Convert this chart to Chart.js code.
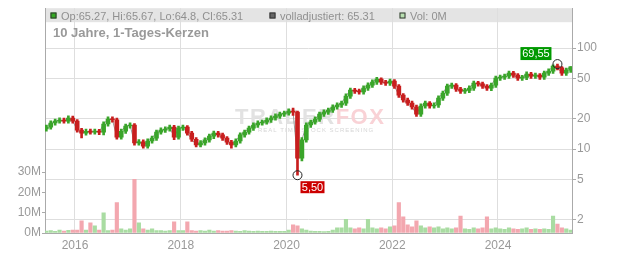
<!DOCTYPE html>
<html>
<head>
<meta charset="utf-8">
<script src="https://cdn.jsdelivr.net/npm/chart.js@4.4.1/dist/chart.umd.min.js"></script>
<style>
  html, body { margin: 0; padding: 0; background: #fff; }
  #wrap { position: relative; width: 632px; height: 253px; }
</style>
</head>
<body>
<div id="wrap"><canvas id="kurs"></canvas></div>
<script>
// Monatskerzen, Volumen in Mio.
const months = [
  '2015-06','2015-07','2015-08','2015-09','2015-10','2015-11','2015-12',
  '2016-01','2016-02','2016-03','2016-04','2016-05','2016-06','2016-07','2016-08','2016-09','2016-10','2016-11','2016-12',
  '2017-01','2017-02','2017-03','2017-04','2017-05','2017-06','2017-07','2017-08','2017-09','2017-10','2017-11','2017-12',
  '2018-01','2018-02','2018-03','2018-04','2018-05','2018-06','2018-07','2018-08','2018-09','2018-10','2018-11','2018-12',
  '2019-01','2019-02','2019-03','2019-04','2019-05','2019-06','2019-07','2019-08','2019-09','2019-10','2019-11','2019-12',
  '2020-01','2020-02','2020-03','2020-04','2020-05','2020-06','2020-07','2020-08','2020-09','2020-10','2020-11','2020-12',
  '2021-01','2021-02','2021-03','2021-04','2021-05','2021-06','2021-07','2021-08','2021-09','2021-10','2021-11','2021-12',
  '2022-01','2022-02','2022-03','2022-04','2022-05','2022-06','2022-07','2022-08','2022-09','2022-10','2022-11','2022-12',
  '2023-01','2023-02','2023-03','2023-04','2023-05','2023-06','2023-07','2023-08','2023-09','2023-10','2023-11','2023-12',
  '2024-01','2024-02','2024-03','2024-04','2024-05','2024-06','2024-07','2024-08','2024-09','2024-10','2024-11','2024-12',
  '2025-01','2025-02','2025-03','2025-04','2025-05'
];
const opens = [
  15.8,16.5,18.1,18.9,19.4,18.9,20.3,
  18.9,15.4,14.4,15.0,14.7,15.0,14.7,17.7,19.8,19.5,13.1,15.0,
  16.9,17.3,11.5,11.8,10.7,12.0,12.8,14.7,15.4,15.8,16.5,13.1,
  16.1,16.5,14.4,12.5,11.0,11.5,12.3,13.4,14.4,13.8,12.8,11.7,
  11.0,12.0,13.8,14.7,16.1,17.3,18.1,18.5,19.4,20.3,21.2,22.2,
  22.7,23.8,23.2,8.1,12.3,17.3,18.5,19.8,22.2,23.2,24.3,26.1,
  27.3,28.5,33.5,38.4,37.5,36.8,40.2,43.0,46.1,49.4,46.1,45.0,
  47.1,42.0,34.2,30.6,28.5,26.1,22.2,26.7,28.5,26.7,27.3,32.0,
  35.8,42.0,43.0,39.3,37.5,38.0,40.2,45.0,44.2,42.0,40.2,43.0,
  50.5,51.6,52.8,56.6,54.0,50.5,51.2,55.3,52.8,54.0,51.6,56.6,
  59.3,66.4,64.0,56.6,60.6
];
const highs = [
  17.3,19.0,19.8,20.4,20.3,21.3,21.2,
  19.6,16.0,15.8,15.8,15.8,15.7,18.6,20.8,20.8,20.3,15.8,17.7,
  18.2,17.9,12.4,12.3,12.6,13.4,15.4,16.2,16.6,17.3,17.2,16.9,
  17.3,17.1,15.0,13.0,12.1,12.9,14.1,15.1,15.0,14.4,13.3,12.2,
  12.6,14.5,15.4,16.9,18.2,19.0,19.4,20.4,21.3,22.3,23.3,23.8,
  25.0,25.5,23.8,13.0,18.2,19.4,20.8,23.3,24.4,25.5,27.4,28.7,
  29.9,35.2,40.3,40.0,39.2,42.2,45.2,48.4,51.5,50.8,48.0,49.4,
  48.8,43.5,35.5,32.0,29.8,27.2,28.0,29.9,29.6,28.7,33.6,37.6,
  44.1,45.1,44.6,40.9,39.9,42.2,47.2,46.8,46.0,43.6,45.1,53.0,
  54.2,55.4,59.4,58.8,56.0,53.8,58.1,57.5,56.7,56.0,59.4,62.3,
  68.5,69.55,65.5,63.6,65.67
];
const lows = [
  15.0,15.7,17.2,18.0,18.0,18.0,18.0,
  14.7,12.9,13.7,14.0,14.0,13.9,13.8,16.8,18.5,12.5,12.5,14.3,
  16.1,10.9,10.9,10.2,10.2,11.4,12.2,14.0,14.6,15.0,12.4,12.5,
  15.3,13.7,11.9,10.5,10.5,10.9,11.7,12.7,13.1,12.2,11.1,10.2,
  10.5,11.4,13.1,14.0,15.3,16.4,17.2,17.6,18.4,19.3,20.1,21.1,
  21.6,21.5,5.5,7.6,11.7,16.4,17.6,18.8,21.1,22.0,23.1,24.8,
  25.9,27.1,31.8,35.6,35.0,35.0,38.2,40.9,43.8,43.8,42.8,42.8,
  39.9,32.5,29.1,27.1,24.8,21.1,21.1,25.4,25.4,25.4,25.9,30.4,
  34.0,39.9,37.3,35.6,35.6,36.1,38.2,42.0,39.9,38.2,37.8,40.9,
  48.0,49.0,50.2,51.3,48.0,48.0,48.6,50.2,50.2,49.0,49.0,53.8,
  56.3,60.8,53.8,53.8,57.6
];
const closes = [
  16.5,18.1,18.9,19.4,18.9,20.3,18.9,
  15.4,14.4,15.0,14.7,15.0,14.7,17.7,19.8,19.5,13.1,15.0,16.9,
  17.3,11.5,11.8,10.7,12.0,12.8,14.7,15.4,15.8,16.5,13.1,16.1,
  16.5,14.4,12.5,11.0,11.5,12.3,13.4,14.4,13.8,12.8,11.7,11.0,
  12.0,13.8,14.7,16.1,17.3,18.1,18.5,19.4,20.3,21.2,22.2,22.7,
  23.8,23.2,8.1,12.3,17.3,18.5,19.8,22.2,23.2,24.3,26.1,27.3,
  28.5,33.5,38.4,37.5,36.8,40.2,43.0,46.1,49.4,46.1,45.0,47.1,
  42.0,34.2,30.6,28.5,26.1,22.2,26.7,28.5,26.7,27.3,32.0,35.8,
  42.0,43.0,39.3,37.5,38.0,40.2,45.0,44.2,42.0,40.2,43.0,50.5,
  51.6,52.8,56.6,54.0,50.5,51.2,55.3,52.8,54.0,51.6,56.6,59.3,
  66.4,64.0,56.6,60.6,65.31
];
const volumes = [
  1.0,1.2,0.8,1.5,1.0,1.3,1.5,
  1.5,6.0,1.5,5.0,3.5,1.5,10.0,1.2,1.5,15.0,2.0,1.5,
  2.0,26.5,5.0,2.0,1.5,2.0,1.2,1.2,1.0,1.2,5.5,1.2,
  1.2,5.5,1.2,1.0,1.2,1.0,1.5,1.0,1.2,1.0,1.0,1.2,
  1.0,0.8,1.2,1.0,0.8,1.0,0.8,0.8,1.0,0.8,0.8,0.8,
  1.5,4.0,3.5,2.0,1.5,1.0,0.8,0.8,0.7,0.8,1.5,2.5,
  2.5,6.7,2.5,2.0,2.5,2.0,6.7,2.5,2.0,2.5,2.0,3.0,
  3.5,15.0,8.0,4.0,3.0,6.0,3.5,2.5,3.0,2.5,3.0,2.0,
  2.5,2.0,2.5,8.4,2.0,1.8,2.5,2.0,2.5,8.0,2.0,2.5,
  2.0,1.8,2.5,2.0,1.8,2.0,2.5,1.8,2.0,1.8,2.0,1.8,
  8.4,4.4,2.5,2.0,1.5
];
const yearTicks = [2016, 2018, 2020, 2022, 2024];
const priceTicks = [2, 5, 10, 20, 50, 100];
const volTicks = [0, 10, 20, 30];
const headerText = {
  ohlc: 'Op:65.27, Hi:65.67, Lo:64.8, Cl:65.31',
  adj: 'volladjustiert: 65.31',
  vol: 'Vol: 0M'
};
const title = '10 Jahre, 1-Tages-Kerzen';

(function () {
  'use strict';

  const FONT = "'Liberation Sans', Arial, sans-serif";
  const INK = '#999';
  const GREEN = '#3aa52a', RED = '#c81e1e';
  const VOL_G = '#a9dca2', VOL_R = '#f3a7af';

  // Monatsmitte als Dezimaljahr
  const xs = months.map(m => {
    const [y, mo] = m.split('-').map(Number);
    return y + (mo - 0.5) / 12;
  });
  const up = closes.map((c, i) => c >= opens[i]);

  const iMin = lows.indexOf(Math.min(...lows));
  const iMax = highs.indexOf(Math.max(...highs));
  const fmt = v => v.toFixed(2).replace('.', ',');

  Chart.defaults.font.family = FONT;
  Chart.defaults.font.size = 12;

  const backdrop = {
    id: 'backdrop',
    beforeDraw(chart) {
      const { ctx, chartArea: a } = chart;
      ctx.save();
      ctx.fillStyle = '#e4e4e4';
      ctx.fillRect(a.left, a.top, a.right - a.left, 14);
      ctx.restore();
    },
    beforeDatasetsDraw(chart) {
      const ctx = chart.ctx;
      ctx.save();
      ctx.font = 'bold 22px ' + FONT;
      ctx.letterSpacing = '1.5px';
      ctx.textBaseline = 'alphabetic';
      ctx.fillStyle = '#e2e2e2';
      ctx.fillText('TRADER', 235, 124);
      const w = ctx.measureText('TRADER').width;
      ctx.fillStyle = '#f9d2d6';
      ctx.fillText('FOX', 235 + w, 124);
      ctx.font = '6px ' + FONT;
      ctx.letterSpacing = '1px';
      ctx.fillStyle = '#d6d6d6';
      ctx.fillText('REAL TIME STOCK SCREENING', 258, 132);
      ctx.restore();
    }
  };

  function tag(ctx, text, x, y, w, h, bg) {
    ctx.fillStyle = bg;
    ctx.fillRect(x, y, w, h);
    ctx.fillStyle = '#fff';
    ctx.textAlign = 'center';
    ctx.textBaseline = 'middle';
    ctx.fillText(text, x + w / 2, y + h / 2 + 0.5);
  }

  function square(ctx, x, y, fill) {
    ctx.fillStyle = fill;
    ctx.fillRect(x, y, 6, 6);
    ctx.strokeStyle = '#333';
    ctx.lineWidth = 1;
    ctx.strokeRect(x + 0.5, y + 0.5, 5, 5);
  }

  const overlay = {
    id: 'overlay',
    afterDraw(chart) {
      const { ctx, scales } = chart;
      ctx.save();
      // Kopfzeile
      square(ctx, 50.5, 12.5, '#33aa22');
      square(ctx, 269.5, 12.5, '#666');
      square(ctx, 399.5, 12.5, '#b8e0b0');
      ctx.font = '11px ' + FONT;
      ctx.fillStyle = '#909090';
      ctx.textBaseline = 'alphabetic';
      ctx.fillText(headerText.ohlc, 61, 20);
      ctx.fillText(headerText.adj, 280, 20);
      ctx.fillText(headerText.vol, 410, 20);
      ctx.font = 'bold 13px ' + FONT;
      ctx.fillStyle = '#999';
      ctx.fillText(title, 53, 37);

      // Tief / Hoch
      ctx.font = '11px ' + FONT;
      const mx = scales.x.getPixelForValue(xs[iMin]);
      const my = scales.y.getPixelForValue(lows[iMin]);
      tag(ctx, fmt(lows[iMin]), mx + 3, my + 6, 24, 12, '#cc0000');
      const hx = scales.x.getPixelForValue(xs[iMax]);
      const hy = scales.y.getPixelForValue(highs[iMax]);
      tag(ctx, fmt(highs[iMax]), hx - 37, hy - 17, 31, 13, '#009900');
      ctx.restore();
    }
  };

  new Chart(document.getElementById('kurs'), {
    type: 'bar',
    data: {
      datasets: [
        {
          type: 'scatter',
          data: [{ x: xs[iMin], y: lows[iMin] }, { x: xs[iMax], y: highs[iMax] }],
          pointRadius: 4.5, pointStyle: 'circle',
          backgroundColor: 'rgba(0,0,0,0)', borderColor: '#222', borderWidth: 1,
          yAxisID: 'y', order: 1
        },
        {
          label: 'Körper',
          data: xs.map((x, i) => ({ x, y: [opens[i], closes[i]] })),
          backgroundColor: up.map(u => u ? GREEN : RED),
          barThickness: 4, minBarLength: 1, grouped: false,
          yAxisID: 'y', order: 2
        },
        {
          label: 'Docht',
          data: xs.map((x, i) => ({ x, y: [lows[i], highs[i]] })),
          backgroundColor: up.map(u => u ? GREEN : RED),
          barThickness: 2, grouped: false,
          yAxisID: 'y', order: 3
        },
        {
          type: 'line',
          label: 'volladjustiert',
          data: xs.map((x, i) => ({ x, y: closes[i] })),
          borderColor: '#999', borderWidth: 1, pointRadius: 0, tension: 0,
          yAxisID: 'y', order: 4
        },
        {
          label: 'Vol',
          data: xs.map((x, i) => ({ x, y: volumes[i] })),
          backgroundColor: up.map(u => u ? VOL_G : VOL_R),
          barThickness: 3.5, grouped: false,
          yAxisID: 'yv', order: 5
        }
      ]
    },
    options: {
      responsive: true, maintainAspectRatio: false, animation: false,
      events: [],
      layout: { padding: { top: 8, left: 0, right: 0, bottom: 0 } },
      plugins: { legend: { display: false }, tooltip: { enabled: false } },
      scales: {
        x: {
          type: 'linear', min: 2015.433, max: 2025.40, offset: false,
          afterBuildTicks: s => { s.ticks = yearTicks.map(v => ({ value: v })); },
          afterFit: s => { s.height = 20; },
          grid: { color: '#dedede', offset: false, drawTicks: false },
          border: { color: '#aaa' },
          ticks: { color: INK, font: { size: 12 }, padding: 5, maxRotation: 0, autoSkip: false,
                   callback: v => String(v) }
        },
        y: {
          type: 'logarithmic', position: 'right', min: 1.47, max: 249,
          afterBuildTicks: s => { s.ticks = priceTicks.map(v => ({ value: v })); },
          afterFit: s => { s.width = 60; },
          grid: { color: '#dedede', tickColor: '#aaa', tickLength: 4 },
          border: { color: '#aaa' },
          ticks: { color: INK, font: { size: 12 }, padding: 1, callback: v => String(v) }
        },
        yv: {
          type: 'linear', position: 'left', min: 0, max: 110.8,
          afterBuildTicks: s => { s.ticks = volTicks.map(v => ({ value: v })); },
          afterFit: s => { s.width = 45; },
          grid: { drawOnChartArea: false, tickColor: '#aaa', tickLength: 3 },
          border: { color: '#aaa' },
          ticks: { color: INK, font: { size: 12 }, padding: 1, callback: v => v + 'M' }
        }
      }
    },
    plugins: [backdrop, overlay]
  });
})();
</script>
</body>
</html>
